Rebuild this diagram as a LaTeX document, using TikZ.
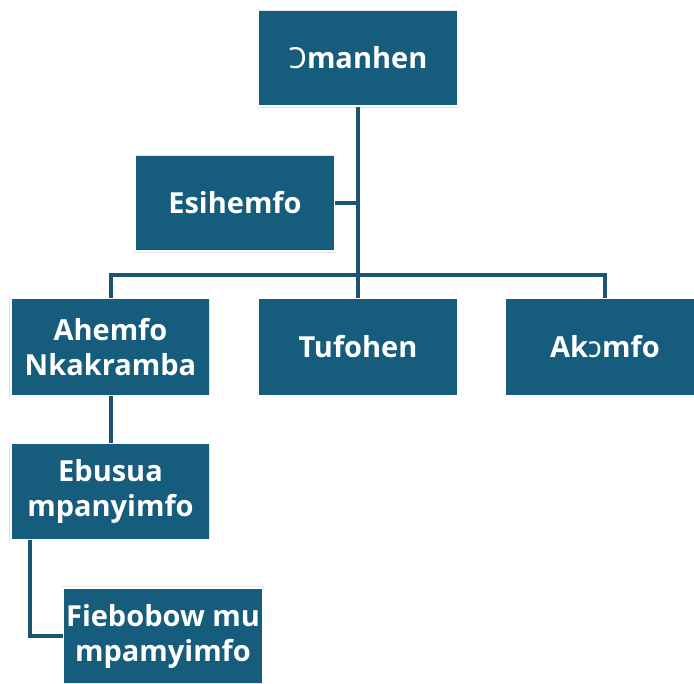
\documentclass[tikz,border=0pt]{standalone}
\usepackage{fontspec}
\setmainfont{Open Sans}
\newfontfamily\ipafont{Noto Sans}
\definecolor{boxblue}{HTML}{165C7D}
\definecolor{lineblue}{HTML}{1A5472}
\tikzset{
  x=1pt, y=-1pt,
  orgbox/.style={rectangle, fill=boxblue, draw=black!10, double=white, double distance=2pt,
    minimum width=200pt, minimum height=97pt, inner sep=0pt, align=center,
    text=white, font=\fontsize{29}{35}\selectfont\bfseries},
  conn/.style={draw=lineblue, line width=4pt}
}
\newcommand{\thinO}{{\ipafont\char"0186}}
\newcommand{\thino}{{\ipafont\char"0254}}
\begin{document}
\begin{tikzpicture}
\path[use as bounding box] (0,0) rectangle (694,684);
\clip (0,0) rectangle (694,684);
\fill[white] (0,0) rectangle (694,684);
\coordinate (jtop) at (358,275);
\coordinate (jl) at (110.5,275);
\coordinate (jr) at (605,275);
\coordinate (jesi) at (358,203);
\coordinate (jfb) at (30,636);
\node[orgbox] (oman) at (358,58) {\thinO manhen};
\node[orgbox] (esi) at (235,203) {Esihemfo};
\node[orgbox, minimum height=98pt] (ahem) at (110.5,347) {Ahemfo\\Nkakramba};
\node[orgbox, minimum height=98pt] (tufo) at (358,347) {Tufohen};
\node[orgbox, minimum height=98pt] (akom) at (605,347) {Ak\thino mfo};
\node[orgbox] (ebu) at (110.5,491.5) {Ebusua\\mpanyimfo};
\node[orgbox] (fie) at (163,636) {Fiebobow mu\\mpamyimfo};
\draw[conn] (oman.south) -- (jtop);
\draw[conn] (esi.east) -- (jesi);
\draw[conn, line cap=rect] (jl) -- (jr);
\draw[conn] (jl) -- (ahem.north);
\draw[conn] (jtop) -- (tufo.north);
\draw[conn] (jr) -- (akom.north);
\draw[conn] (ahem.south) -- (ebu.south |- ahem.south) -- (ebu.north);
\draw[conn] (ebu.south -| jfb) -- (jfb) -- (fie.west);
\end{tikzpicture}
\end{document}
